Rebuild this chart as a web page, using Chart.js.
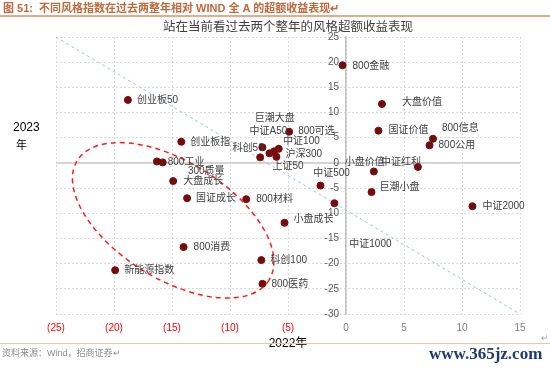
<!DOCTYPE html>
<html>
<head>
<meta charset="utf-8">
<script src="https://cdn.jsdelivr.net/npm/chart.js@4.4.1/dist/chart.umd.min.js"></script>
<style>
  html, body { margin: 0; padding: 0; background: #ffffff; }
  body { width: 550px; height: 368px; position: relative; overflow: hidden; font-family: 'Liberation Sans', 'Noto Sans CJK SC', sans-serif; }
  #c { position: absolute; left: 0; top: 0; }
  .abs { position: absolute; white-space: nowrap; }
  #hdr { left: 3px; top: -1px; font-size: 11px; font-weight: bold; color: #c0693b; }
  #hdrLine { left: 0; top: 15px; width: 550px; height: 2px; background: #dfae8e; }
  #ftrLine { left: 0; top: 343px; width: 550px; height: 1px; background: #ebc3ad; }
  #src { left: 2px; top: 346px; font-size: 9px; color: #8c8c8c; }
  #wm { left: 429px; top: 344px; font-family: 'Liberation Serif', 'DejaVu Serif', serif; font-weight: bold; font-size: 17px; color: #1f3a6e; }
  #ret { left: 541px; top: 333px; font-size: 9px; color: #a0a0a0; }
  #yt1 { left: 13px; top: 120px; font-size: 12px; color: #000; }
  #yt2 { left: 16px; top: 136px; font-size: 11px; color: #000; }
</style>
</head>
<body>
<canvas id="c" width="550" height="368"></canvas>
<div class="abs" id="hdr">图 51:&nbsp; 不同风格指数在过去两整年相对 WIND 全 A 的超额收益表现↵</div>
<div class="abs" id="hdrLine"></div>
<div class="abs" id="ftrLine"></div>
<div class="abs" id="src">资料来源：Wind，招商证券↵</div>
<div class="abs" id="wm">www.365jz.com</div>
<div class="abs" id="ret">↵</div>
<div class="abs" id="yt1">2023</div>
<div class="abs" id="yt2">年</div>
<script>
// ---------------- data ----------------
const names = ['800金融','创业板50','大盘价值','国证价值','800信息','800公用','中证红利','小盘价值','巨潮小盘','中证2000',
  '中证500','中证1000','小盘成长','800材料','科创100','800医药','800消费','新能源指数','国证成长','大盘成长',
  '800工业','300质量','创业板指','科创50','中证A50','巨潮大盘','中证100','沪深300','上证50','800可选'];
const excess2022 = [-0.3,-18.8,3.1,2.8,7.5,7.2,6.2,2.4,2.2,10.9,
  -2.2,-1.0,-5.3,-8.6,-7.3,-7.2,-14.0,-19.9,-13.7,-14.9,
  -15.8,-16.3,-14.2,-7.4,-7.2,-5.8,-6.2,-6.0,-6.6,-4.9];
const excess2023 = [19.4,12.5,11.7,6.4,4.8,3.5,-0.8,-1.7,-5.8,-8.6,
  -4.5,-8.0,-11.9,-7.2,-19.3,-24.0,-16.7,-21.3,-7.0,-3.6,
  0.1,0.3,4.2,1.1,3.1,2.8,2.3,1.2,1.9,6.2];
const refLineX = [-25, 15];
const refLineY = [25, -30];
const xTickLabels = ['(25)','(20)','(15)','(10)','(5)','0','5','10','15'];
const yTickLabels = ['-30','-25','-20','-15','-10','-5','0','5','10','15','20','25'];
const chartTitle = '站在当前看过去两个整年的风格超额收益表现';
const xAxisTitle = '2022年';
const ellipseCenter = [-14.9, -11.4];

// ---------------- label layout (pixels) ----------------
const labelLayout = [
  [10,1,'left'],[9,0,'left'],[20,-2,'left'],[10,0,'left'],[9,-10,'left'],[9,0,'left'],[-17,-5,'center'],[-9,-9,'center'],[8,-5,'left'],[10,0,'left'],
  [11,-12,'center'],[36,41,'center'],[9,-4,'left'],[10,0,'left'],[9,0,'left'],[9,0,'left'],[10,0,'left'],[9,0,'left'],[9,0,'left'],[10,0,'left'],
  [5,0,'left'],[31,10,'left'],[9,0,'left'],[-12,-9,'center'],[6,-16,'center'],[-4,-31,'center'],[9,-10,'left'],[9,-3,'left'],[3,13,'left'],[9,0,'left']
];

const points = names.map((n, i) => ({x: excess2022[i], y: excess2023[i]}));
const refLine = refLineX.map((x, i) => ({x: x, y: refLineY[i]}));

const FONT = "'Liberation Sans', 'Noto Sans CJK SC', sans-serif";
Chart.defaults.font.family = FONT;

const labelPlugin = {
  id: 'pointLabels',
  afterDatasetsDraw(chart) {
    const ctx = chart.ctx;
    const meta = chart.getDatasetMeta(1);
    ctx.save();
    ctx.font = "10px " + FONT;
    ctx.fillStyle = '#404040';
    ctx.textBaseline = 'middle';
    meta.data.forEach((el, i) => {
      const lay = labelLayout[i];
      ctx.textAlign = lay[2];
      ctx.fillText(names[i], el.x + lay[0], el.y + lay[1]);
    });
    ctx.restore();
  }
};

// y tick labels drawn to the left of the crossing y axis (Chart.js ignores padding for positioned axes)
const yLabelPlugin = {
  id: 'yCrossLabels',
  afterDraw(chart) {
    const xs = chart.scales.x, ys = chart.scales.y;
    const ax = xs.getPixelForValue(0);
    const ctx = chart.ctx;
    ctx.save();
    ctx.font = "10px " + FONT;
    ctx.fillStyle = '#595959';
    ctx.textAlign = 'right';
    ctx.textBaseline = 'middle';
    ys.ticks.forEach((t, i) => {
      ctx.fillText(yTickLabels[i], ax - 7, ys.getPixelForValue(t.value));
    });
    ctx.restore();
  }
};

const ellipsePlugin = {
  id: 'ellipse',
  afterDatasetsDraw(chart) {
    const xs = chart.scales.x, ys = chart.scales.y;
    const cx = xs.getPixelForValue(ellipseCenter[0]);
    const cy = ys.getPixelForValue(ellipseCenter[1]);
    const k = (xs.getPixelForValue(15) - xs.getPixelForValue(-25)) / 464;
    const ctx = chart.ctx;
    ctx.save();
    ctx.strokeStyle = '#ff1a1a';
    ctx.lineWidth = 1.5;
    ctx.setLineDash([5, 4]);
    ctx.beginPath();
    ctx.ellipse(cx, cy, 113 * k, 58.5 * k, 32 * Math.PI / 180, 0, Math.PI * 2);
    ctx.stroke();
    ctx.restore();
  }
};

new Chart(document.getElementById('c'), {
  type: 'scatter',
  data: {
    datasets: [
      {
        type: 'line',
        data: refLine,
        borderColor: '#9dc3e6',
        borderWidth: 1,
        borderDash: [3, 3],
        pointRadius: 0,
        fill: false,
        order: 2
      },
      {
        data: points,
        backgroundColor: '#760b0b',
        borderColor: '#760b0b',
        pointRadius: 3.5,
        pointHoverRadius: 3.5,
        order: 1
      }
    ]
  },
  options: {
    responsive: false,
    animation: false,
    devicePixelRatio: 1,
    layout: { padding: { left: 56, right: 30, top: 20, bottom: 17 } },
    plugins: {
      legend: { display: false },
      tooltip: { enabled: false },
      title: {
        display: true,
        text: chartTitle,
        color: '#404040',
        font: { size: 12.5, weight: 'normal' },
        padding: { top: 0, bottom: 2 }
      }
    },
    scales: {
      x: {
        type: 'linear',
        position: 'bottom',
        min: -25, max: 15,
        afterFit: (s) => { s.height = 37; },
        afterBuildTicks: (s) => { s.ticks = xTickLabels.map((l, i) => ({value: -25 + 5 * i})); },
        ticks: {
          stepSize: 5,
          padding: 8,
          font: { size: 10 },
          color: (c) => (c.tick && c.tick.value < 0) ? '#ff0000' : '#7f7f7f',
          callback: (v, i) => xTickLabels[i]
        },
        grid: { color: '#d9d9d9', lineWidth: 1, drawTicks: false },
        border: { display: false, dash: [2, 2] },
        title: { display: true, text: xAxisTitle, color: '#000000', font: { size: 12 }, padding: { top: 0, bottom: 0 } }
      },
      y: {
        type: 'linear',
        position: { x: 0 },
        min: -30, max: 25,
        afterBuildTicks: (s) => { s.ticks = yTickLabels.map((l, i) => ({value: -30 + 5 * i})); },
        ticks: {
          display: false,
          stepSize: 5,
          font: { size: 10 },
          callback: (v, i) => yTickLabels[i]
        },
        grid: {
          drawTicks: false,
          color: (c) => (c.tick && c.tick.value === 0) ? '#d4d4d4' : '#d9d9d9',
          lineWidth: (c) => (c.tick && c.tick.value === 0) ? 2 : 1
        },
        border: {
          display: true,
          color: '#bfbfbf',
          width: 1.5,
          dash: (c) => (c.tick && c.tick.value === 0) ? [] : [2, 2]
        }
      }
    }
  },
  plugins: [ellipsePlugin, labelPlugin, yLabelPlugin]
});
</script>
</body>
</html>
